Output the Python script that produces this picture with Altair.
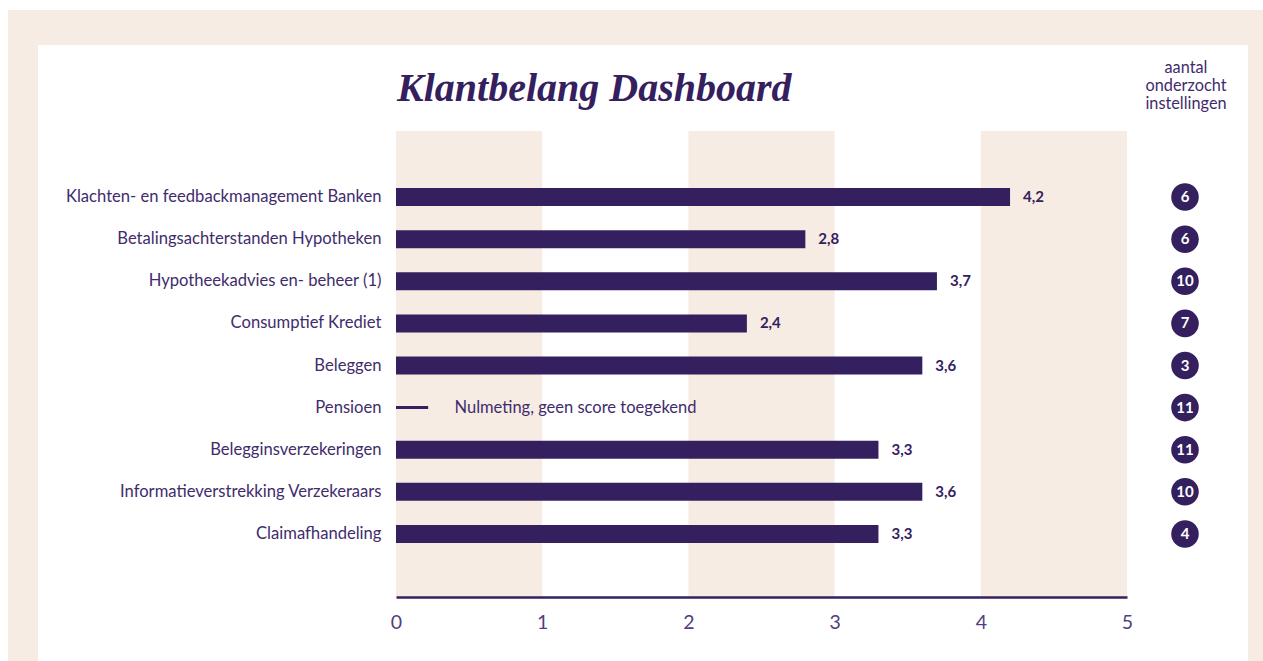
import altair as alt
import pandas as pd

categories = [
    "Klachten- en feedbackmanagement Banken",
    "Betalingsachterstanden Hypotheken",
    "Hypotheekadvies en- beheer (1)",
    "Consumptief Krediet",
    "Beleggen",
    "Pensioen",
    "Belegginsverzekeringen",
    "Informatieverstrekking Verzekeraars",
    "Claimafhandeling",
]
scores = [4.2, 2.8, 3.7, 2.4, 3.6, None, 3.3, 3.6, 3.3]
counts = [6, 6, 10, 7, 3, 11, 11, 10, 4]
band_starts = [0, 2, 4]
band_ends = [1, 3, 5]
x_ticks = [0, 1, 2, 3, 4, 5]
nulmeting_cat = "Pensioen"
nulmeting_dash = 0.22
nulmeting_text_x = 0.4
nulmeting_text = "Nulmeting, geen score toegekend"

PURPLE = "#35205f"
TEXT = "#3f2c6c"
TICK = "#523e80"
BEIGE = "#f6ece3"
FONT = "Lato"

df = pd.DataFrame({"cat": categories, "score": scores, "count": counts})
df["label"] = df["score"].map(lambda v: "" if pd.isna(v) else f"{v:.1f}".replace(".", ","))
bars_df = df[df["score"].notna()]
bands_df = pd.DataFrame({"start": band_starts, "end": band_ends})
one = pd.DataFrame({"a": [0]})
null_df = pd.DataFrame({"cat": [nulmeting_cat], "x0": [0], "x1": [nulmeting_dash], "tx": [nulmeting_text_x], "t": [nulmeting_text]})

W, H = 731, 466
PL, PT = 396, 131

yscale = alt.Scale(domain=categories, paddingInner=0, paddingOuter=0, range=[45, 424])
xscale = alt.Scale(domain=[0, 5], nice=False)

frame = alt.Chart(one).mark_rect(color=BEIGE).encode(
    x=alt.value(8 - PL), x2=alt.value(1263 - PL), y=alt.value(10 - PT), y2=alt.value(661 - PT)
)
panel = alt.Chart(one).mark_rect(color="white").encode(
    x=alt.value(38 - PL), x2=alt.value(1248 - PL), y=alt.value(45 - PT), y2=alt.value(661 - PT)
)

bands = alt.Chart(bands_df).mark_rect(color=BEIGE).encode(
    x=alt.X("start:Q", scale=xscale,
            axis=alt.Axis(values=x_ticks, format="d", title=None, grid=False, ticks=False,
                          domain=True, domainColor=PURPLE, domainWidth=2.5,
                          labelFontSize=19.5, labelColor=TICK, labelFont=FONT, labelPadding=16,
                          labelFlush=False, zindex=1)),
    x2="end:Q",
    y=alt.value(0), y2=alt.value(H),
)

bars = alt.Chart(bars_df).mark_bar(color=PURPLE, size=18).encode(
    x=alt.X("score:Q", scale=xscale),
    y=alt.Y("cat:N", scale=yscale, sort=categories,
            axis=alt.Axis(title=None, domain=False, ticks=False, grid=False,
                          labelFontSize=16.6, labelColor=TEXT, labelFont=FONT,
                          labelPadding=15, labelLimit=400, zindex=1)),
)

values = alt.Chart(bars_df).mark_text(align="left", baseline="middle", dx=13, fontSize=15,
                                      fontWeight="bold", color=PURPLE, font=FONT).encode(
    x=alt.X("score:Q", scale=xscale),
    y=alt.Y("cat:N", scale=yscale, sort=categories),
    text="label:N",
)

dash = alt.Chart(null_df).mark_rule(color=PURPLE, strokeWidth=3).encode(
    x=alt.X("x0:Q", scale=xscale), x2="x1:Q",
    y=alt.Y("cat:N", scale=yscale, sort=categories),
)
null_text = alt.Chart(null_df).mark_text(align="left", baseline="middle", fontSize=16.5,
                                         color=TEXT, font=FONT).encode(
    x=alt.X("tx:Q", scale=xscale),
    y=alt.Y("cat:N", scale=yscale, sort=categories),
    text="t:N",
)

circles = alt.Chart(df).mark_circle(color=PURPLE, opacity=1, size=760).encode(
    x=alt.value(1185 - PL),
    y=alt.Y("cat:N", scale=yscale, sort=categories),
)
circle_text = alt.Chart(df).mark_text(align="center", baseline="middle", fontSize=15,
                                      fontWeight="bold", color="white", font=FONT).encode(
    x=alt.value(1185 - PL),
    y=alt.Y("cat:N", scale=yscale, sort=categories),
    text="count:N",
)

header = alt.Chart(one).mark_text(align="center", baseline="middle", fontSize=16.3, color=TEXT,
                                  font=FONT, lineHeight=18).encode(
    x=alt.value(1186 - PL), y=alt.value(68 - PT),
    text=alt.value(["aantal", "onderzocht", "instellingen"]),
)

title = alt.Chart(one).mark_text(align="left", baseline="alphabetic", fontSize=40,
                                 fontWeight="bold", fontStyle="italic", color=PURPLE,
                                 font="Liberation Serif").encode(
    x=alt.value(1), y=alt.value(101 - PT), text=alt.value("Klantbelang Dashboard"),
)

chart = alt.layer(
    frame, panel, bands, bars, values, dash, null_text, circles, circle_text, header, title
).resolve_scale(y="shared", x="shared").properties(
    width=W, height=H,
    autosize=alt.AutoSizeParams(type="none"),
    padding={"left": PL, "top": PT, "right": 1263 - PL - W, "bottom": 661 - PT - H},
    background="white",
).configure_view(stroke=None)

chart.save("out.html", embed_options={"renderer": "svg", "actions": False})
